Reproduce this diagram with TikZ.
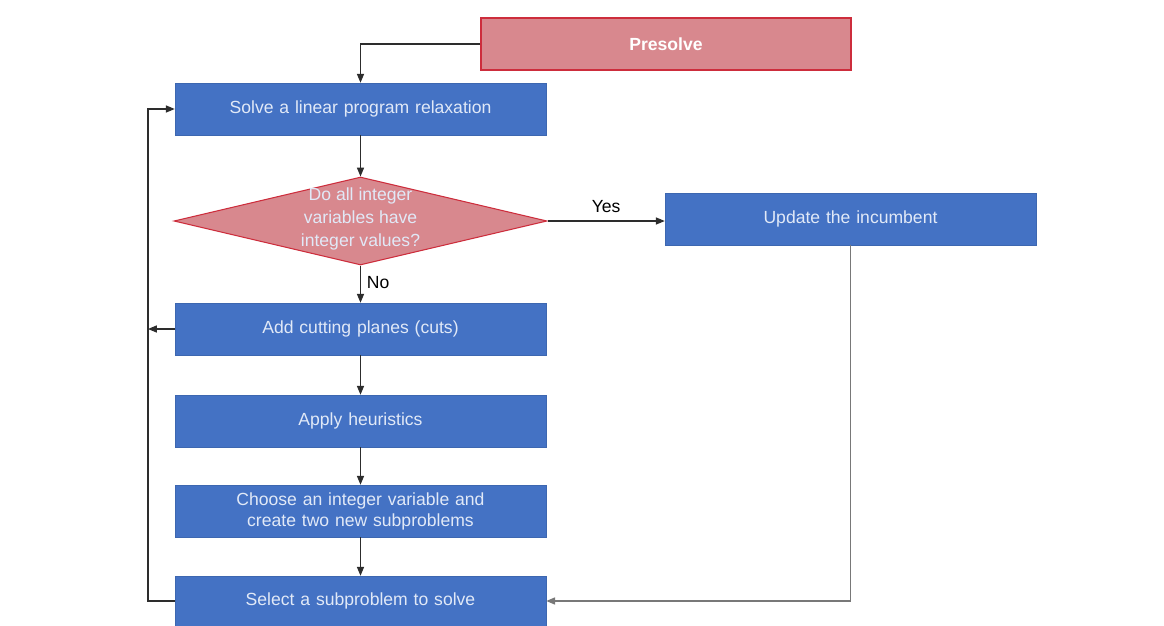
\documentclass[tikz,border=0pt]{standalone}
\usepackage{fontspec}
\setmainfont{Liberation Sans}
\usepackage{tikz}
\usetikzlibrary{shapes.geometric, arrows.meta, positioning, calc}
\definecolor{myblue}{RGB}{68,114,196}
\definecolor{mypink}{RGB}{216,136,142}
\definecolor{myred}{RGB}{205,45,60}
\definecolor{mydark}{RGB}{45,45,45}
\definecolor{mygray}{RGB}{120,120,120}
\definecolor{mytext}{RGB}{225,233,247}
\tikzset{
  block/.style={rectangle, draw=myblue!90!black, fill=myblue,
    text width=7cm, align=center, minimum width=7.42cm, minimum height=1.04cm,
    font=\fontsize{10}{12}\selectfont, text=mytext, inner sep=0pt, line width=0.3pt},
  redblock/.style={rectangle, draw=myred, fill=mypink,
    text width=7cm, align=center, minimum width=7.4cm, minimum height=1.04cm,
    font=\fontsize{10}{12}\selectfont\bfseries, text=white, inner sep=0pt, line width=0.6pt},
  decision/.style={diamond, draw=myred, fill=mypink, inner sep=0pt,
    minimum width=7.46cm, minimum height=1.76cm, line width=0.6pt},
  arrow/.style={-{Triangle[length=5pt, width=4pt]}, line width=0.6pt, color=mydark},
  line/.style={line width=0.6pt, color=mydark},
  lbl/.style={font=\fontsize{10}{12}\selectfont, text=black}
}
\begin{document}
\begin{tikzpicture}
  \useasboundingbox[fill=white] (0,0) rectangle (23.28,-12.52);

  % Main column
  \node[redblock] (presolve) at (13.32,-0.88) {Presolve};
  \node[block] (solve) at (7.21,-2.18) {Solve a linear program relaxation};
  \node[decision] (decide) at (7.21,-4.42) {};
  \node[align=center, font=\fontsize{10}{13}\selectfont, text=mytext] (decidetxt) at (7.21,-4.38)
    {Do all integer\\ variables have\\ integer values?};
  \node[block] (update) at (17.01,-4.38) {Update the incumbent};
  \node[block] (cuts) at (7.21,-6.58) {Add cutting planes (cuts)};
  \node[block] (heur) at (7.21,-8.42) {Apply heuristics};
  \node[block] (choose) at (7.21,-10.22) {Choose an integer variable and\\ create two new subproblems};
  \node[block, minimum height=1.0cm] (select) at (7.21,-12.02) {Select a subproblem to solve};

  % Loop corners
  \coordinate (loopbot) at (2.96,-12.02);
  \coordinate (looptop) at (2.96,-2.18);
  \coordinate (loopmid) at (2.96,-6.58);
  \coordinate (rightbot) at (update.south |- select.east);

  % Connections
  \draw[arrow] (presolve.west) -| (solve.north);
  \draw[arrow] (solve) -- (decide.north);
  \draw[arrow] (decide.east) -- (update.west |- decide.east)
    node[lbl, pos=0.5, above=1pt] (yes) {Yes};
  \draw[arrow] (decide.south) -- (cuts.north)
    node[lbl, pos=0.45, right=0pt] (no) {No};
  \draw[arrow] (cuts) -- (heur);
  \draw[arrow] (heur) -- (choose);
  \draw[arrow] (choose) -- (select);
  \draw[arrow] (cuts.west) -- (loopmid);
  \draw[arrow] (select.west) -- (loopbot) -- (looptop) -- (solve.west);
  \draw[arrow, color=mygray, line width=0.8pt] (update.south) -- (rightbot) -- (select.east);
\end{tikzpicture}
\end{document}
